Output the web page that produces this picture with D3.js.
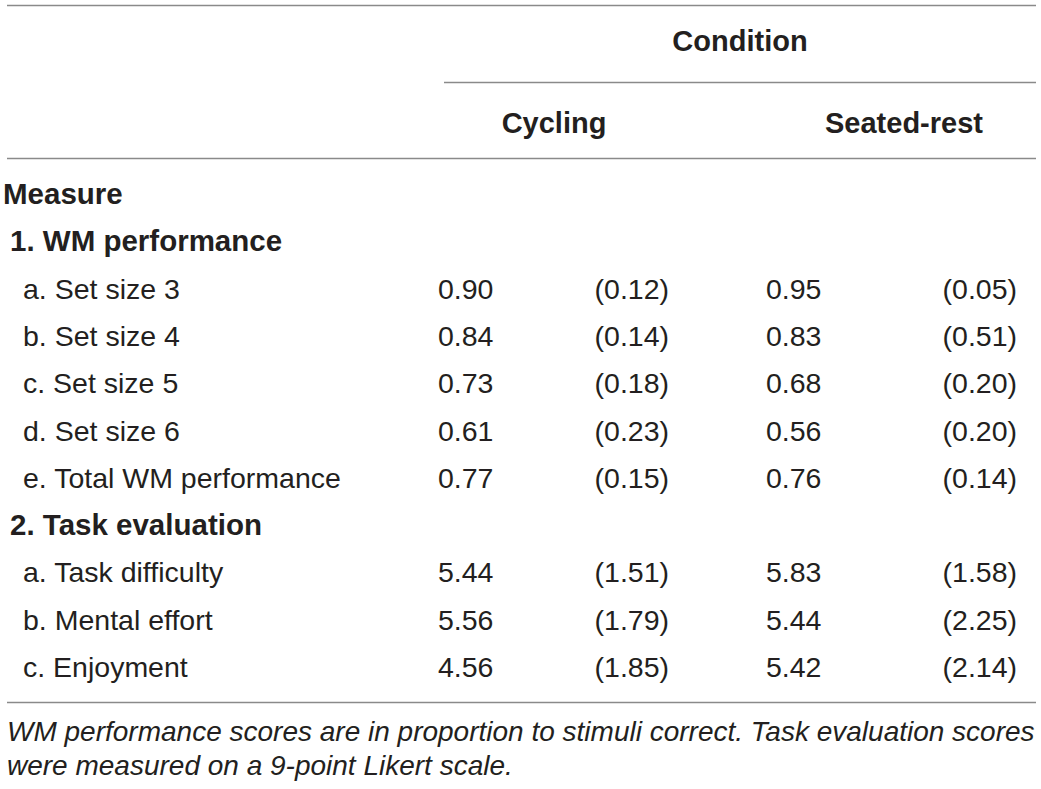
<!DOCTYPE html>
<html>
<head>
<meta charset="utf-8">
<script src="https://cdn.jsdelivr.net/npm/d3@7"></script>
<style>
  body { margin: 0; background: #fff; }
  svg { display: block; font-family: "Liberation Sans", Arial, Helvetica, sans-serif; }
</style>
</head>
<body>
<div id="table"></div>
<script>
/* Table content */
const rowLabels = [
  "Measure",
  "1. WM performance",
  "a. Set size 3",
  "b. Set size 4",
  "c. Set size 5",
  "d. Set size 6",
  "e. Total WM performance",
  "2. Task evaluation",
  "a. Task difficulty",
  "b. Mental effort",
  "c. Enjoyment"
];
const rowLevels = [0, 1, 2, 2, 2, 2, 2, 1, 2, 2, 2];

const conditions = ["Cycling", "Seated-rest"];
const cyclingMean = [null, null, 0.90, 0.84, 0.73, 0.61, 0.77, null, 5.44, 5.56, 4.56];
const cyclingSD   = [null, null, 0.12, 0.14, 0.18, 0.23, 0.15, null, 1.51, 1.79, 1.85];
const seatedMean  = [null, null, 0.95, 0.83, 0.68, 0.56, 0.76, null, 5.83, 5.44, 5.42];
const seatedSD    = [null, null, 0.05, 0.51, 0.20, 0.20, 0.14, null, 1.58, 2.25, 2.14];

const footnote = [
  "WM performance scores are in proportion to stimuli correct. Task evaluation scores",
  "were measured on a 9-point Likert scale."
];

const width = 1041;
const height = 789;
const textColor = "#231f20";
const ruleColor = "#8a8a8a";
const fmt = d3.format(".2f");

const svg = d3.select("#table")
  .append("svg")
  .attr("width", width)
  .attr("height", height);

// row positions
const y = d3.scalePoint()
  .domain(d3.range(rowLabels.length))
  .range([194, 667]);

const indent = [3, 10, 23];

// rules
const rules = [
  { x1: 7, x2: 1036, y: 5.5 },
  { x1: 444, x2: 1036, y: 82.5 },
  { x1: 7, x2: 1036, y: 158.5 },
  { x1: 7, x2: 1036, y: 702.5 }
];

svg.append("g")
  .selectAll("line")
  .data(rules)
  .join("line")
    .attr("x1", d => d.x1)
    .attr("x2", d => d.x2)
    .attr("y1", d => d.y)
    .attr("y2", d => d.y)
    .attr("stroke", ruleColor)
    .attr("stroke-width", 1.5);

// header
svg.append("text")
  .attr("x", 740)
  .attr("y", 51)
  .attr("text-anchor", "middle")
  .attr("font-size", 29)
  .attr("font-weight", "bold")
  .attr("fill", textColor)
  .text("Condition");

const headX = [554, 904];
svg.append("g")
  .selectAll("text")
  .data(conditions)
  .join("text")
    .attr("x", (d, i) => headX[i])
    .attr("y", 133)
    .attr("text-anchor", "middle")
    .attr("font-size", 29)
    .attr("font-weight", "bold")
    .attr("fill", textColor)
    .text(d => d);

// row labels
const rows = svg.append("g");

rows.selectAll("text.label")
  .data(rowLabels)
  .join("text")
    .attr("class", "label")
    .attr("x", (d, i) => indent[rowLevels[i]])
    .attr("y", (d, i) => y(i) + 10)
    .attr("font-size", (d, i) => rowLevels[i] < 2 ? 29.5 : 28.5)
    .attr("font-weight", (d, i) => rowLevels[i] < 2 ? "bold" : "normal")
    .attr("fill", textColor)
    .text(d => d);

// value columns
const columns = [
  { values: cyclingMean, x: 438, anchor: "start", paren: false },
  { values: cyclingSD, x: 669, anchor: "end", paren: true },
  { values: seatedMean, x: 766, anchor: "start", paren: false },
  { values: seatedSD, x: 1017, anchor: "end", paren: true }
];

columns.forEach(col => {
  const cells = col.values
    .map((v, i) => ({ v, i }))
    .filter(d => d.v !== null);

  rows.append("g")
    .selectAll("text")
    .data(cells)
    .join("text")
      .attr("x", col.x)
      .attr("y", d => y(d.i) + 10)
      .attr("text-anchor", col.anchor)
      .attr("font-size", 28.5)
      .attr("fill", textColor)
      .text(d => col.paren ? `(${fmt(d.v)})` : fmt(d.v));
});

// footnote
svg.append("g")
  .selectAll("text")
  .data(footnote)
  .join("text")
    .attr("x", 7)
    .attr("y", (d, i) => 741 + i * 34)
    .attr("font-size", 28)
    .attr("font-style", "italic")
    .attr("fill", textColor)
    .text(d => d);
</script>
</body>
</html>
